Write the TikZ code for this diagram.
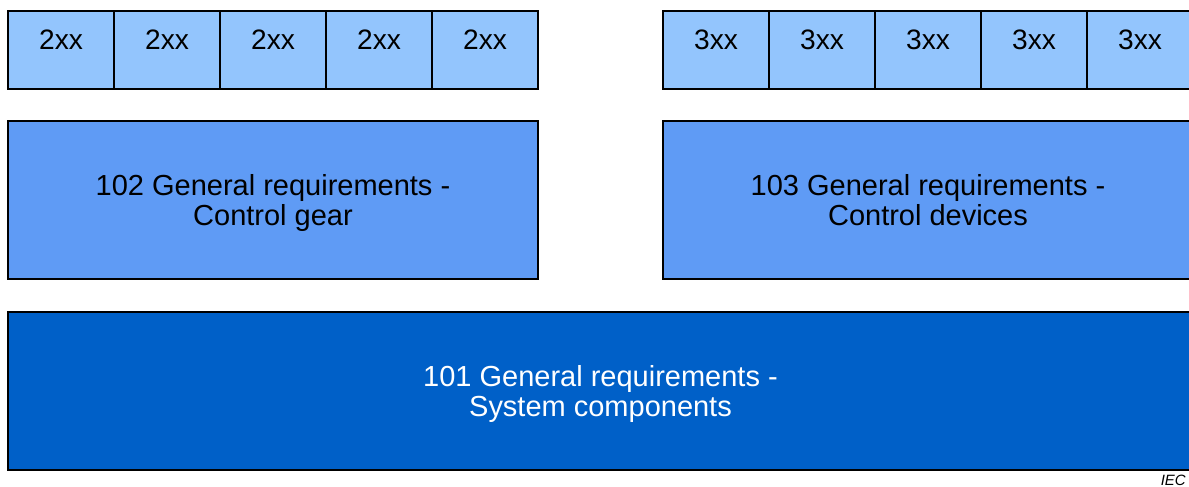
\documentclass[tikz,border=0pt]{standalone}
\usepackage{fontspec}
\setmainfont{Liberation Sans}
\usetikzlibrary{positioning}

\definecolor{celblue}{HTML}{93C5FD}
\definecolor{genblue}{HTML}{5F9BF5}
\definecolor{sysblue}{HTML}{0060C8}

\tikzset{
  part/.style={draw=black, line width=0.8pt, fill=celblue, minimum width=2.12cm, minimum height=1.56cm,
    inner sep=0pt, outer sep=0pt, text depth=0.4cm, font=\fontsize{16}{19}\selectfont},
  general/.style={draw=black, line width=0.8pt, fill=genblue, minimum width=10.6cm, minimum height=3.16cm,
    inner sep=0pt, outer sep=0pt, align=center, font=\fontsize{16.5}{17}\selectfont},
}

\begin{document}
\begin{tikzpicture}[node distance=0pt]
	\useasboundingbox (0,0) rectangle (23.78,-9.72);

	% 2xx parts
	\node[part, anchor=north west] (p21) at (0.16,-0.22) {2xx};
	\node[part] (p22) [right=of p21] {2xx};
	\node[part] (p23) [right=of p22] {2xx};
	\node[part] (p24) [right=of p23] {2xx};
	\node[part] (p25) [right=of p24] {2xx};

	% 3xx parts
	\node[part, anchor=north west] (p31) at (13.26,-0.22) {3xx};
	\node[part] (p32) [right=of p31] {3xx};
	\node[part] (p33) [right=of p32] {3xx};
	\node[part] (p34) [right=of p33] {3xx};
	\node[part] (p35) [right=of p34] {3xx};

	\node[general, anchor=north west] (gear) at (0.16,-2.42) {102 General requirements -\\\smash{Control gear}};
	\node[general, anchor=north west] (dev) at (13.26,-2.42) {103 General requirements -\\\smash{Control devices}};

	\node[general, anchor=north west, fill=sysblue, text=white, minimum width=23.7cm] (sys) at (0.16,-6.24)
		{101 General requirements -\\\smash{System components}};

	\node[anchor=east, font=\fontsize{8.5}{9}\selectfont\itshape, inner sep=0pt] (iec) at (23.72,-9.6) {IEC};
\end{tikzpicture}
\end{document}
